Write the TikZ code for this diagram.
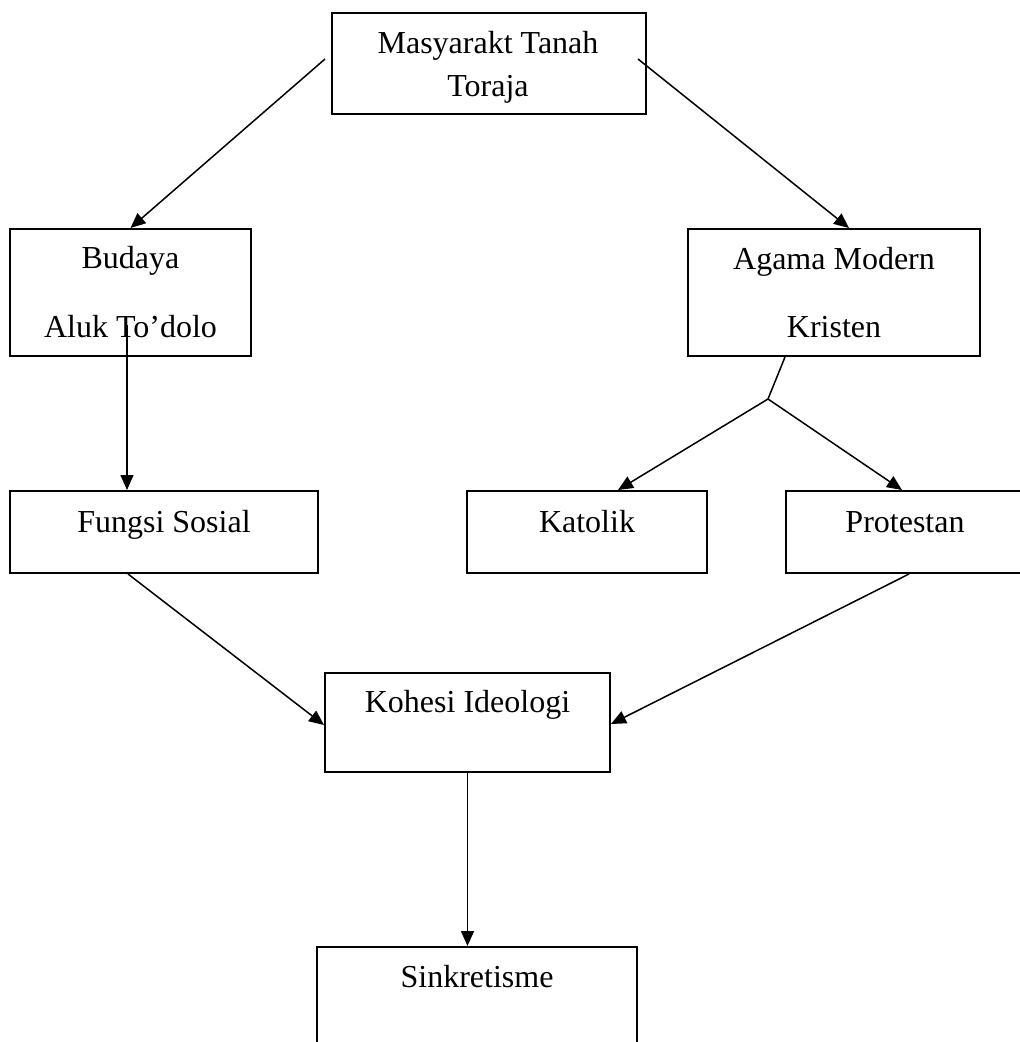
\documentclass[tikz,border=0pt]{standalone}
\usepackage{fontspec}
\setmainfont{Liberation Serif}
\usetikzlibrary{arrows.meta}
\tikzstyle{box}=[rectangle,draw=black,line width=2pt,inner sep=0pt]
\tikzstyle{lbl}=[anchor=base,inner sep=0pt,font=\fontsize{32}{38}\selectfont]
\tikzstyle{arr}=[line width=1.5pt,-{Triangle[length=15pt,width=13pt]}]
\tikzstyle{ln}=[line width=1.5pt]

\begin{document}
\begin{tikzpicture}[x=1pt,y=-1pt]
        \clip (0,0) rectangle (1020,1042);
        \node [style=box,minimum width=314pt,minimum height=101pt] (tor) at (489,63.5) {};
        \node [style=box,minimum width=241pt,minimum height=127pt] (bud) at (130.5,292.5) {};
        \node [style=box,minimum width=292pt,minimum height=127pt] (aga) at (834,292.5) {};
        \node [style=box,minimum width=308pt,minimum height=82pt] (fun) at (164,532) {};
        \node [style=box,minimum width=240pt,minimum height=82pt] (kat) at (587,532) {};
        \node [style=box,minimum width=238pt,minimum height=82pt] (pro) at (905,532) {};
        \node [style=box,minimum width=285pt,minimum height=99pt] (koh) at (467.5,722.5) {};
        \node [style=box,minimum width=320pt,minimum height=153pt] (sin) at (477,1023.5) {};
        % texts
        \node [style=lbl] (tor1) at (488,53) {Masyarakt Tanah};
        \node [style=lbl] (tor2) at (488,96) {Toraja};
        \node [style=lbl] (bud1) at (130.5,268) {Budaya};
        \node [style=lbl] (bud2) at (130.5,337) {Aluk To’dolo};
        \node [style=lbl] (aga1) at (834,269) {Agama Modern};
        \node [style=lbl] (aga2) at (834,337) {Kristen};
        \node [style=lbl] (fun1) at (164,532) {Fungsi Sosial};
        \node [style=lbl] (kat1) at (587,532) {Katolik};
        \node [style=lbl] (pro1) at (905,532) {Protestan};
        \node [style=lbl] (koh1) at (467.5,712) {Kohesi Ideologi};
        \node [style=lbl] (sin1) at (477,987) {Sinkretisme};
        % free ends
        \coordinate (torL) at (325,59);
        \coordinate (torR) at (638,59);
        \coordinate (budS) at (127,325);
        \coordinate (split) at (768,399);
        \draw [style=arr] (torL) to (bud.north);
        \draw [style=arr] (torR) to ([xshift=15pt]aga.north);
        \draw [style=arr] (budS) to (budS |- fun.north);
        \draw [style=ln] ([xshift=-49pt]aga.south) to (split);
        \draw [style=arr] (split) to ([xshift=31pt]kat.north);
        \draw [style=arr] (split) to ([xshift=-3pt]pro.north);
        \draw [style=arr] ([xshift=-36pt]fun.south) to ([yshift=-2.5pt]koh.west);
        \draw [style=arr] ([xshift=4pt]pro.south) to ([yshift=-1.5pt]koh.east);
        \draw [style=arr] (koh.south) to (koh.south |- sin.north);
    \end{tikzpicture}
\end{document}
